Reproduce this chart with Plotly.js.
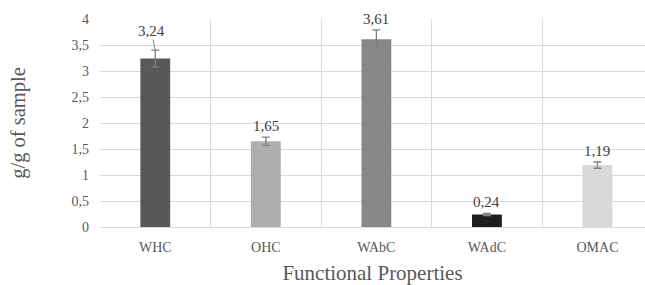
<!DOCTYPE html>
<html>
<head>
<meta charset="utf-8">
<script src="https://cdn.plot.ly/plotly-3.0.1.min.js"></script>
<style>html,body{margin:0;padding:0;background:#fff;}#chart{width:645px;height:285px;}</style>
</head>
<body>
<div id="chart"></div>
<script>
const categories = ["WHC", "OHC", "WAbC", "WAdC", "OMAC"];
const values = [3.24, 1.65, 3.61, 0.24, 1.19];
const errors = [0.16, 0.08, 0.18, 0.02, 0.06];
const labels = ["3,24", "1,65", "3,61", "0,24", "1,19"];
const barColors = ["#595959", "#aeaeae", "#878787", "#1e1e1e", "#d9d9d9"];
const yTickVals = [0, 0.5, 1, 1.5, 2, 2.5, 3, 3.5, 4];

const serif = "Liberation Serif, Times New Roman, serif";

const trace = {
  type: "bar",
  x: categories,
  y: values,
  width: 0.27,
  marker: {color: barColors, line: {width: 0}},
  error_y: {type: "data", array: errors, visible: true, color: "#808080", thickness: 1.3, width: 4},
  hoverinfo: "none"
};

const annotations = categories.map((c, i) => {
  const base = {
    x: c, y: values[i] + errors[i], text: labels[i],
    font: {family: serif, size: 15, color: "#404040"},
    xanchor: "center", yanchor: "bottom"
  };
  if (i === 0) {
    return Object.assign(base, {showarrow: true, arrowhead: 0, arrowwidth: 1, arrowcolor: "#808080",
      ax: -4, ay: -19, yanchor: "middle", standoff: 0, borderpad: 0});
  }
  return Object.assign(base, {showarrow: false, yshift: 1});
});

const layout = {
  width: 645, height: 285,
  margin: {l: 100, r: 0, t: 19, b: 58.3, pad: 0},
  paper_bgcolor: "#ffffff", plot_bgcolor: "#ffffff",
  separators: ", ",
  showlegend: false,
  font: {family: serif, color: "#595959"},
  xaxis: {
    type: "category",
    range: [-0.5, 4.43],
    tickson: "boundaries",
    ticks: "",
    ticklabelstandoff: 10,
    showgrid: true, gridcolor: "#d9d9d9", gridwidth: 1,
    showline: false, zeroline: false,
    tickfont: {family: serif, size: 14, color: "#595959"},
    title: {text: "Functional Properties", font: {family: serif, size: 21, color: "#595959"}, standoff: 14},
    fixedrange: true
  },
  yaxis: {
    range: [0, 4],
    tickvals: yTickVals,
    ticks: "",
    ticklabelstandoff: 10,
    showgrid: true, gridcolor: "#d9d9d9", gridwidth: 1,
    zeroline: true, zerolinecolor: "#d9d9d9", zerolinewidth: 1,
    showline: false,
    tickfont: {family: serif, size: 14, color: "#595959"},
    title: {text: "g/g of sample", font: {family: serif, size: 20.5, color: "#595959"}, standoff: 40},
    fixedrange: true
  },
  annotations: annotations
};

Plotly.newPlot("chart", [trace], layout, {displayModeBar: false, staticPlot: true});
</script>
</body>
</html>
